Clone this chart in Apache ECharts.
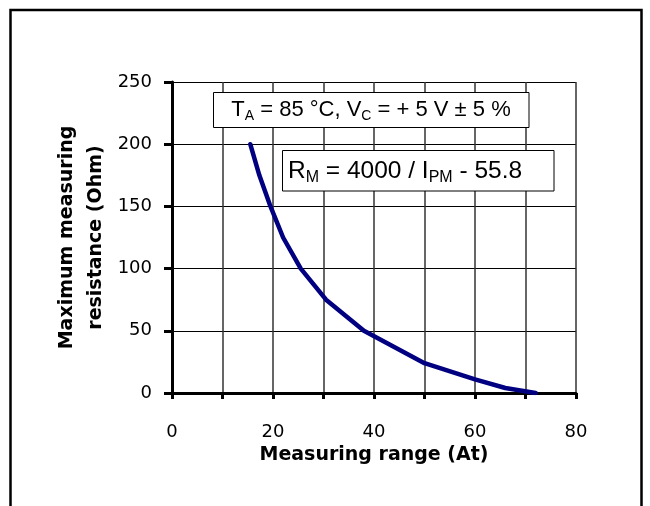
<!DOCTYPE html>
<html>
<head>
<meta charset="utf-8">
<script src="https://cdn.jsdelivr.net/npm/echarts@6/dist/echarts.min.js"></script>
<style>
html,body{margin:0;padding:0;background:#fff;}
#chart{width:650px;height:506px;}
</style>
</head>
<body>
<div id="chart"></div>
<script>
// Data
var measuringRange = [15.5, 17.3, 19.5, 22.0, 25.5, 30.5, 38.0, 50.0, 60.0, 66.0, 72.0];
var maxResistance  = [200, 175, 150, 125, 100, 75, 50, 24, 11, 4, 0];
var xTicks = [0, 20, 40, 60, 80];
var yTicks = [0, 50, 100, 150, 200, 250];
var xTitle = 'Measuring range (At)';
var yTitle = 'Maximum measuring\nresistance (Ohm)';

var points = measuringRange.map(function (x, i) { return [x, maxResistance[i]]; });

var chart = echarts.init(document.getElementById('chart'), null, {renderer: 'canvas'});
var tickFont = 'DejaVu Sans';
var titleFont = 'DejaVu Sans';
var txtFont = 'Liberation Sans, Arial, sans-serif';

chart.setOption({
  animation: false,
  backgroundColor: '#fff',
  grid: {left: 172, top: 82, width: 404, height: 311, containLabel: false, outerBoundsMode: 'none'},
  xAxis: {
    type: 'value', min: 0, max: 80, interval: 10,
    name: xTitle, nameLocation: 'middle', nameGap: 62, nameMoveOverlap: false,
    nameTextStyle: {fontFamily: titleFont, fontSize: 19, fontWeight: 'bold', color: '#000', verticalAlign: 'middle'},
    axisLine: {show: true, onZero: false, lineStyle: {color: '#000', width: 3}},
    axisTick: {show: true, inside: false, length: 6, lineStyle: {color: '#000', width: 3}},
    axisLabel: {
      margin: 30, fontFamily: tickFont, fontSize: 18, color: '#000',
      formatter: function (v) { return xTicks.indexOf(v) >= 0 ? String(v) : ''; }
    },
    splitLine: {show: true, lineStyle: {color: '#333', width: 1.5}}
  },
  yAxis: {
    type: 'value', min: 0, max: 250, interval: 50,
    name: yTitle, nameLocation: 'middle', nameGap: 90, nameRotate: 90, nameMoveOverlap: false,
    nameTextStyle: {fontFamily: titleFont, fontSize: 19, fontWeight: 'bold', color: '#000', lineHeight: 29, verticalAlign: 'middle', align: 'center'},
    axisLine: {show: true, onZero: false, lineStyle: {color: '#000', width: 3}},
    axisTick: {show: true, inside: false, length: 8, lineStyle: {color: '#000', width: 3}},
    axisLabel: {
      margin: 20, fontFamily: tickFont, fontSize: 18, color: '#000',
      formatter: function (v) { return yTicks.indexOf(v) >= 0 ? String(v) : ''; }
    },
    splitLine: {show: true, lineStyle: {color: '#000', width: 1}}
  },
  series: [{
    type: 'line',
    data: points,
    showSymbol: false,
    smooth: false,
    lineStyle: {color: '#000080', width: 4.5, cap: 'round', join: 'round'},
    z: 5
  }],
  graphic: [
    {
      type: 'rect', z: 100,
      shape: {x: 10.5, y: 10, width: 631, height: 520},
      style: {fill: null, stroke: '#000', lineWidth: 2.5}
    },
    {type: 'rect', z: 100, shape: {x: 213.5, y: 92.5, width: 315.5, height: 35}, style: {fill: '#fff', stroke: '#000', lineWidth: 1}},
    {type: 'text', z: 101, style: {
      x: 371, y: 110, align: 'center', verticalAlign: 'middle',
      text: '{m|T}{s|A}{m| = 85 \u00b0C, V}{s|C}{m| = + 5 V \u00b1 5 %}',
      rich: {
        m: {fontFamily: txtFont, fontSize: 22, fill: '#000'},
        s: {fontFamily: txtFont, fontSize: 14, fill: '#000', padding: [12, 0, 0, 0]}
      }
    }},
    {type: 'rect', z: 100, shape: {x: 282.5, y: 150.5, width: 271.5, height: 40.5}, style: {fill: '#fff', stroke: '#000', lineWidth: 1}},
    {type: 'text', z: 101, style: {
      x: 288, y: 171, align: 'left', verticalAlign: 'middle',
      text: '{m|R}{s|M}{m| = 4000 / I}{s|PM}{m| - 55.8}',
      rich: {
        m: {fontFamily: txtFont, fontSize: 24.5, fill: '#000'},
        s: {fontFamily: txtFont, fontSize: 16, fill: '#000', padding: [13, 0, 0, 0]}
      }
    }}
  ]
});
</script>
</body>
</html>
